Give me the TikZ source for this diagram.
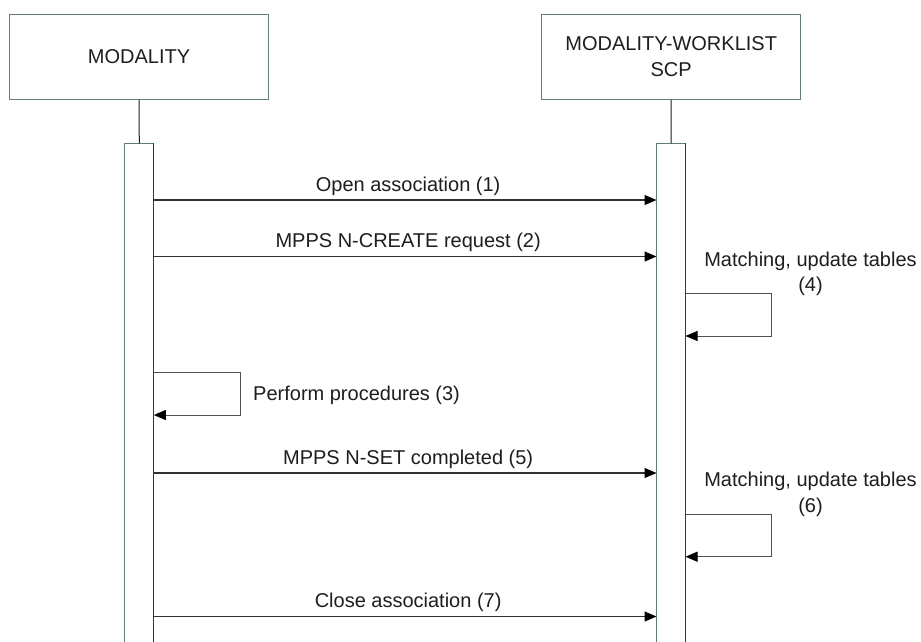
\documentclass[tikz,border=0pt]{standalone}
\usepackage{fontspec}
\setmainfont{Liberation Sans}
\usetikzlibrary{arrows.meta}
\definecolor{frame}{RGB}{96,128,108}
\definecolor{frameDark}{RGB}{30,70,45}
\definecolor{ink}{RGB}{30,30,30}
\definecolor{wire}{RGB}{50,50,50}
\tikzset{
  lbl/.style={font=\fontsize{20}{25.5}\selectfont, text=ink, inner sep=0pt, align=center},
  actor/.style={draw=frame, line width=1.3pt, minimum width=259pt, minimum height=85pt,
    inner sep=0pt, lbl},
  bar/.style={draw=none, minimum width=28.6pt, minimum height=500pt, inner sep=0pt,
    anchor=north},
  tip/.style={-{Triangle[length=12pt,width=10pt,color=black]}},
  msg/.style={draw=wire, line width=1.1pt, tip},
  loopback/.style={draw=wire!85, line width=1pt, tip},
  stem/.style={draw=ink, line width=1pt}
}
\begin{document}
\begin{tikzpicture}[x=1pt,y=-1pt]
\useasboundingbox (0,0) rectangle (921,641);
\fill[white] (0,0) rectangle (921,641);

% participants
\node[actor] (mod) at (139,56.75) {MODALITY};
\node[actor] (mwl) at (671.2,56.75) {MODALITY-WORKLIST\\SCP};

% activation bars
\node[bar] (barA) at (139.3,143.3) {};
\node[bar] (barB) at (671,143.3) {};
\draw[frame, line width=1.2pt] (barA.south west) -- (barA.north west) -- (barA.north east);
\draw[frameDark, line width=1pt] (barA.north east) -- (barA.south east);
\draw[frame, line width=1.2pt] (barB.south west) -- (barB.north west) -- (barB.north east);
\draw[frameDark, line width=1pt] (barB.north east) -- (barB.south east);

% lifeline stems
\draw[stem] (mod.south) -- (barA.north);
\draw[stem] (mwl.south) -- (barB.north);

% message end points
\foreach \n/\y in {1/200, 2/256.5, 5/473, 7/616.5} {
  \coordinate (s\n) at (barA.east |- 0,\y);
  \coordinate (t\n) at (barB.west |- 0,\y);
}

% messages
\draw[msg] (s1) -- node[lbl, above=4pt, xshift=3pt] {Open association (1)} (t1);
\draw[msg] (s2) -- node[lbl, above=4pt, xshift=3pt] {MPPS N-CREATE request (2)} (t2);
\draw[msg] (s5) -- node[lbl, above=4pt, xshift=3pt] {MPPS N-SET completed (5)} (t5);
\draw[msg] (s7) -- node[lbl, above=4pt, xshift=3pt] {Close association (7)} (t7);

% self messages
\coordinate (l3a) at (barA.east |- 0,372.3);
\coordinate (l3b) at (barA.east |- 0,415);
\draw[loopback] (l3a) -- (240,372.3) |- (l3b);
\node[lbl, anchor=west] (p3) at (253,395) {Perform procedures (3)};

\coordinate (l4a) at (barB.east |- 0,293.3);
\coordinate (l4b) at (barB.east |- 0,336);
\draw[loopback] (l4a) -- (771.7,293.3) |- (l4b);
\node[lbl] (p4) at (810.5,274) {Matching, update tables\\(4)};

\coordinate (l6a) at (barB.east |- 0,514);
\coordinate (l6b) at (barB.east |- 0,556.7);
\draw[loopback] (l6a) -- (771.7,514) |- (l6b);
\node[lbl] (p6) at (810.5,494.5) {Matching, update tables\\(6)};
\end{tikzpicture}
\end{document}
